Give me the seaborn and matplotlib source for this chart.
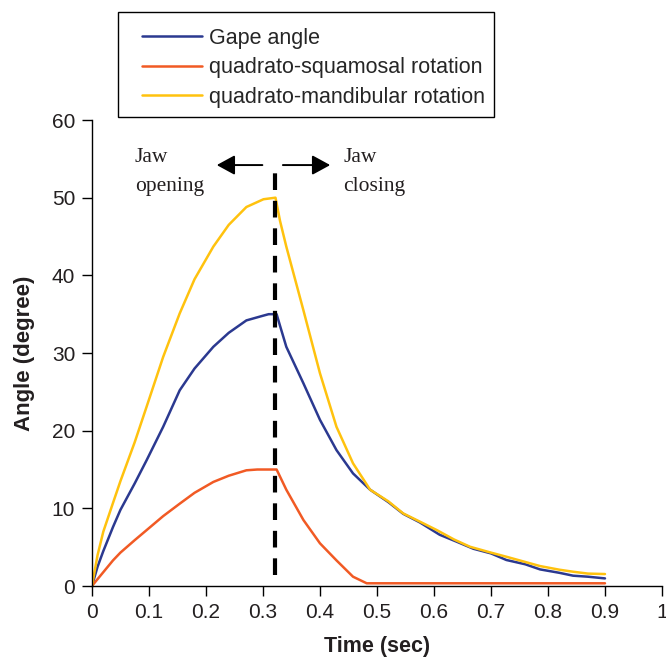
import numpy as np
import pandas as pd
import seaborn as sns
import matplotlib.pyplot as plt
from matplotlib.patches import Rectangle

# values
t_gape = [0, 0.01, 0.02, 0.037, 0.05, 0.075, 0.096, 0.125, 0.154, 0.18, 0.213,
          0.24, 0.271, 0.3, 0.31, 0.324, 0.33, 0.341, 0.371, 0.4, 0.429, 0.458,
          0.488, 0.52, 0.546, 0.575, 0.61, 0.64, 0.669, 0.7, 0.727, 0.76, 0.786,
          0.82, 0.844, 0.87, 0.9]
gape = [0, 2.5, 4.5, 7.6, 9.8, 13.2, 16.2, 20.5, 25.2, 28.0, 30.8,
        32.6, 34.2, 34.8, 35.0, 35.0, 33.5, 30.8, 26.1, 21.4, 17.5, 14.5,
        12.4, 10.8, 9.3, 8.2, 6.6, 5.7, 4.8, 4.2, 3.35, 2.8, 2.14,
        1.7, 1.33, 1.2, 0.98]

t_qm = [0, 0.01, 0.02, 0.037, 0.05, 0.075, 0.096, 0.125, 0.154, 0.18, 0.213,
        0.24, 0.271, 0.301, 0.322, 0.33, 0.341, 0.371, 0.4, 0.429, 0.458,
        0.488, 0.52, 0.546, 0.575, 0.605, 0.635, 0.663, 0.7, 0.727, 0.76,
        0.786, 0.82, 0.844, 0.87, 0.9]
qm = [0, 4.0, 7.0, 10.7, 13.5, 18.5, 23.1, 29.5, 35.1, 39.5, 43.7,
      46.5, 48.8, 49.8, 50.0, 47.0, 43.7, 35.5, 27.4, 20.5, 15.8,
      12.4, 10.9, 9.35, 8.3, 7.2, 6.0, 5.06, 4.3, 3.77, 3.1,
      2.57, 2.1, 1.84, 1.6, 1.54]

t_qs = [0, 0.037, 0.05, 0.075, 0.096, 0.125, 0.154, 0.18, 0.213, 0.24, 0.271,
        0.29, 0.324, 0.341, 0.371, 0.4, 0.429, 0.458, 0.482, 0.5, 0.9]
qs = [0, 3.3, 4.3, 5.9, 7.2, 9.0, 10.6, 12.0, 13.4, 14.2, 14.9,
      15.0, 15.0, 12.4, 8.5, 5.5, 3.3, 1.2, 0.35, 0.35, 0.35]

labels = ["Gape angle", "quadrato-squamosal rotation", "quadrato-mandibular rotation"]
colors = ["#2B3990", "#F15A24", "#FFC20E"]
xtick_labels = ["0", "0.1", "0.2", "0.3", "0.4", "0.5", "0.6", "0.7", "0.8", "0.9", "1"]

df = pd.concat([
    pd.DataFrame({"time": t_gape, "angle": gape, "series": labels[0]}),
    pd.DataFrame({"time": t_qs, "angle": qs, "series": labels[1]}),
    pd.DataFrame({"time": t_qm, "angle": qm, "series": labels[2]}),
])

sns.set_style("ticks")
plt.rcParams["font.family"] = ["Liberation Sans", "DejaVu Sans"]

fig = plt.figure(figsize=(6.66, 6.58), dpi=100)
ax = fig.add_axes([0.138, 0.1094, 0.856, 0.7082])

sns.lineplot(data=df, x="time", y="angle", hue="series", hue_order=labels,
             palette=colors, estimator=None, sort=False, linewidth=1.8, ax=ax)

# opening / closing boundary
ax.plot([0.321, 0.321], [1.4, 54.2], color="black", lw=3, dashes=(4, 2.6))
arrow = dict(arrowstyle="-|>,head_length=0.55,head_width=0.3", mutation_scale=20,
             color="black", lw=1.4, shrinkA=0, shrinkB=0)
ax.annotate("", xy=(0.219, 54.2), xytext=(0.299, 54.2), arrowprops=arrow)
ax.annotate("", xy=(0.418, 54.2), xytext=(0.335, 54.2), arrowprops=arrow)
ax.text(0.0754, 56.4, "Jaw\nopening", family="Liberation Serif", fontsize=15.5,
        va="top", ha="left", linespacing=1.7, color="#231F20")
ax.text(0.441, 56.4, "Jaw\nclosing", family="Liberation Serif", fontsize=15.5,
        va="top", ha="left", linespacing=1.7, color="#231F20")

ax.set_xlim(0, 1)
ax.set_ylim(0, 60)
ax.set_xticks(np.arange(0, 1.01, 0.1))
ax.set_xticklabels(xtick_labels)
ax.set_yticks(range(0, 61, 10))
ax.tick_params(labelsize=15, length=7, width=1, pad=5, color="black",
               labelcolor="#231F20")
ax.set_xlabel("Time (sec)", fontsize=15.5, fontweight="bold", color="#231F20",
              labelpad=10)
ax.set_ylabel("Angle (degree)", fontsize=16, fontweight="bold", color="#231F20",
              labelpad=12)
for s in ["left", "bottom"]:
    ax.spines[s].set_color("black")
    ax.spines[s].set_linewidth(1)
sns.despine(ax=ax)
ax.margins(0)

# legend: frame drawn separately so its padding matches the reference
fig.patches.append(Rectangle((0.1772, 0.8222), 0.5646, 0.1596, transform=fig.transFigure,
                             facecolor="white", edgecolor="black", lw=1, zorder=-1))
handles, _ = ax.get_legend_handles_labels()
ax.legend(handles, labels, loc="upper left", bbox_to_anchor=(0.213, 0.958),
          bbox_transform=fig.transFigure, fontsize=15.5, frameon=False,
          handlelength=2.8, handletextpad=0.3, borderpad=0, labelspacing=0.4,
          borderaxespad=0)

fig.savefig("out.png", dpi=100)
